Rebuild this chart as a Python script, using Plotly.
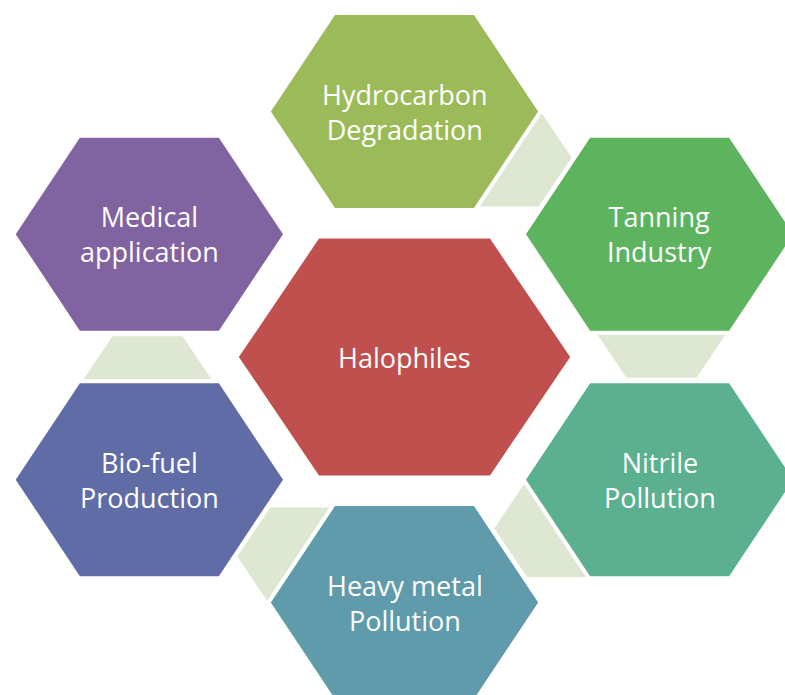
import math
import plotly.graph_objects as go

# ---- content ----
center_label = ["Halophiles"]
outer_labels = [
    ["Hydrocarbon", "Degradation"],
    ["Tanning", "Industry"],
    ["Nitrile", "Pollution"],
    ["Heavy metal", "Pollution"],
    ["Bio-fuel", "Production"],
    ["Medical", "application"],
]
outer_colors = ["#9BBB59", "#5DB35E", "#5BB08F", "#5F9BAA", "#606CA6", "#8063A0"]
center_color = "#C0504D"
connector_color = "#DEE7D2"
# connectors link item i to item i+1 (clockwise); none between Medical and Hydrocarbon
connector_pairs = [(0, 1), (1, 2), (2, 3), (3, 4), (4, 5)]

# ---- layout geometry ----
W, H = 785, 695
CX, CY = 404.5, 357.0
SX = 1.2            # horizontal stretch of the radial layout
RING = 245.5        # distance of outer hexagons from centre
CONN_DIST = 216.0
CONN_SHIFT = -7.5   # degrees
OUT = (136.0, 70.5, 98.5)     # half-width, top half-width, half-height
MID = (168.0, 86.5, 120.5)
CON = (68.0, 35.0, 49.0)
FONT = "Open Sans"
FS = 27


def hexagon(cx, cy, dims):
    w, t, h = dims
    xs = [cx - t, cx + t, cx + w, cx + t, cx - t, cx - w, cx - t]
    ys = [cy - h, cy - h, cy, cy + h, cy + h, cy, cy - h]
    return xs, ys


def polar(angle_deg, dist):
    a = math.radians(angle_deg)
    return CX + SX * dist * math.cos(a), CY + dist * math.sin(a)


angles = [-90 + 60 * i for i in range(6)]
fig = go.Figure()

# connectors (behind)
for a, b in connector_pairs:
    mid_angle = (angles[a] + angles[b]) / 2 + CONN_SHIFT
    cx, cy = polar(mid_angle, CONN_DIST)
    xs, ys = hexagon(cx, cy, CON)
    fig.add_trace(go.Scatter(x=xs, y=ys, mode="lines", fill="toself",
                             fillcolor=connector_color,
                             line=dict(color=connector_color, width=0),
                             hoverinfo="skip", showlegend=False))

annotations = []
# outer hexagons
for i, (lab, col) in enumerate(zip(outer_labels, outer_colors)):
    cx, cy = polar(angles[i], RING)
    xs, ys = hexagon(cx, cy, OUT)
    fig.add_trace(go.Scatter(x=xs, y=ys, mode="lines", fill="toself",
                             fillcolor=col, line=dict(color="white", width=4),
                             hoverinfo="skip", showlegend=False))
    annotations.append(dict(x=cx, y=cy, text="<br>".join(lab),
                            showarrow=False, xref="x", yref="y",
                            font=dict(family=FONT, size=FS, color="white")))

# centre hexagon
xs, ys = hexagon(CX, CY, MID)
fig.add_trace(go.Scatter(x=xs, y=ys, mode="lines", fill="toself",
                         fillcolor=center_color, line=dict(color="white", width=4),
                         hoverinfo="skip", showlegend=False))
annotations.append(dict(x=CX, y=CY, text=center_label[0], showarrow=False,
                        xref="x", yref="y",
                        font=dict(family=FONT, size=FS, color="white")))

fig.update_layout(
    width=W, height=H,
    margin=dict(l=0, r=0, t=0, b=0),
    paper_bgcolor="white", plot_bgcolor="white",
    xaxis=dict(range=[0, W], visible=False, fixedrange=True),
    yaxis=dict(range=[H, 0], visible=False, fixedrange=True),
    annotations=annotations,
    showlegend=False,
)

fig.write_html("out.html", config={"displayModeBar": False},
               post_script="document.body.style.margin='0';")
